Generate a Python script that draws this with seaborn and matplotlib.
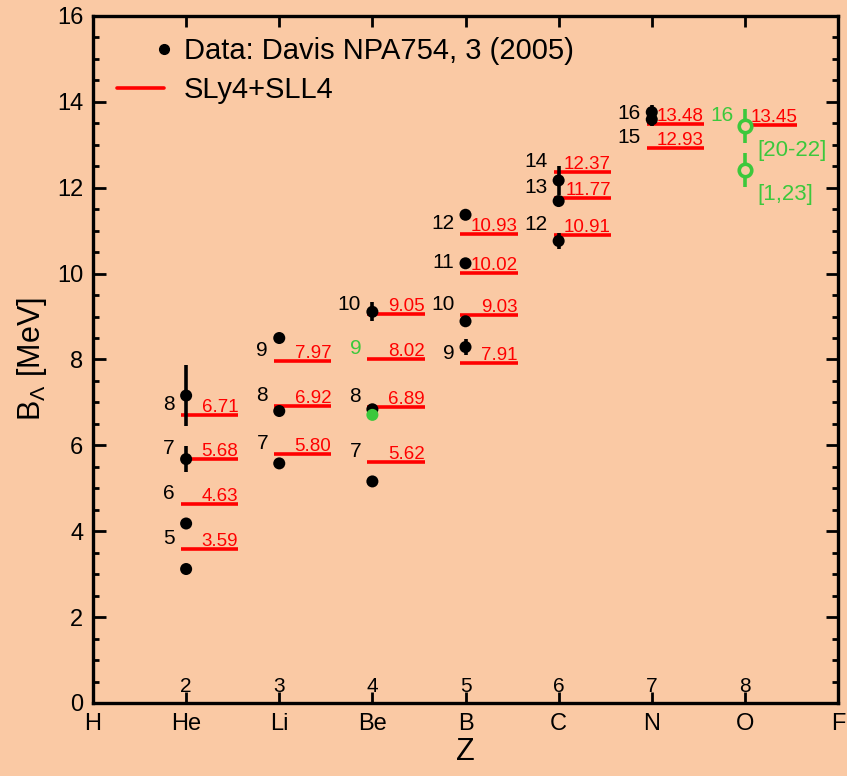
import matplotlib
matplotlib.use("Agg")
import matplotlib.pyplot as plt
import seaborn as sns
import pandas as pd
from matplotlib.lines import Line2D
from matplotlib.legend_handler import HandlerLine2D
from matplotlib.ticker import MultipleLocator

# Element symbols along the Z axis
elements = ["H", "He", "Li", "Be", "B", "C", "N", "O", "F"]
element_Z = [1, 2, 3, 4, 5, 6, 7, 8, 9]

# SLy4+SLL4 Lambda binding energies
th_Z = [2, 2, 2, 2, 3, 3, 3, 4, 4, 4, 4, 5, 5, 5, 5, 6, 6, 6, 7, 7, 8]
th_A = [5, 6, 7, 8, 7, 8, 9, 7, 8, 9, 10, 9, 10, 11, 12, 12, 13, 14, 15, 16, 16]
th_B = [3.59, 4.63, 5.68, 6.71, 5.80, 6.92, 7.97, 5.62, 6.89, 8.02, 9.05,
        7.91, 9.03, 10.02, 10.93, 10.91, 11.77, 12.37, 12.93, 13.48, 13.45]

# Measured values, Davis NPA754, 3 (2005)
exp_Z = [2, 2, 2, 2, 3, 3, 3, 4, 4, 4, 5, 5, 5, 5, 6, 6, 6, 7, 7]
exp_A = [5, 6, 7, 8, 7, 8, 9, 7, 8, 10, 9, 10, 11, 12, 12, 13, 14, 15, 16]
exp_B = [3.12, 4.18, 5.68, 7.16, 5.58, 6.80, 8.50, 5.16, 6.84, 9.11,
         8.29, 8.89, 10.24, 11.37, 10.76, 11.69, 12.17, 13.59, 13.76]
exp_err = [0.02, 0.10, 0.30, 0.70, 0.03, 0.03, 0.12, 0.08, 0.05, 0.22,
           0.18, 0.12, 0.05, 0.06, 0.19, 0.12, 0.33, 0.15, 0.16]

# Other measurements: 9Be (filled) and 16O (open, with references)
be_Z = [4]
be_B = [6.71]
o_Z = [8, 8]
o_B = [13.44, 12.42]
o_err = [0.40, 0.40]
o_refs = ["[20-22]", "[1,23]"]

BG = "#FAC9A4"
RED = "#FF0000"
GREEN = "#3CC83C"

sns.set_style("ticks", rc={"axes.facecolor": BG, "figure.facecolor": BG})
plt.rcParams.update({
    "font.family": ["Liberation Sans", "DejaVu Sans"],
    "mathtext.fontset": "custom",
    "mathtext.rm": "Liberation Sans",
    "mathtext.it": "Liberation Sans:italic",
    "text.color": "black",
    "axes.labelcolor": "black",
    "axes.edgecolor": "black",
    "xtick.color": "black",
    "ytick.color": "black",
    "xtick.labelcolor": "black",
    "ytick.labelcolor": "black",
})

fig = plt.figure(figsize=(8.47, 7.76), dpi=100)
ax = fig.add_axes([0.1098, 0.0941, 0.8796, 0.8853])

th = pd.DataFrame({"Z": th_Z, "A": th_A, "B": th_B})
ex = pd.DataFrame({"Z": exp_Z, "A": exp_A, "B": exp_B, "err": exp_err})

# theory levels
ax.hlines(th["B"], th["Z"] - 0.055, th["Z"] + 0.56, color=RED, lw=2.6, zorder=2)
measured = set(zip(exp_Z, exp_A))
for z, a, b in zip(th_Z, th_A, th_B):
    ax.text(z + 0.56, b + 0.07, f"{b:.2f}", color=RED, fontsize=13.5,
            ha="right", va="baseline", zorder=4)
    col = "black" if (z, a) in measured else GREEN
    ax.text(z - 0.12, b + 0.24, f"{a}", color=col, fontsize=15,
            ha="right", va="center", zorder=4)

# measured points
ax.errorbar(ex["Z"], ex["B"], yerr=ex["err"], fmt="none", ecolor="black",
            elinewidth=2.6, capsize=0, zorder=5)
sns.scatterplot(data=ex, x="Z", y="B", color="black", s=75, edgecolor="none",
                ax=ax, zorder=6, legend=False)
sns.scatterplot(x=be_Z, y=be_B, color=GREEN, s=75, edgecolor="none",
                ax=ax, zorder=7, legend=False)
ax.errorbar(o_Z, o_B, yerr=o_err, fmt="o", color=GREEN, mfc=BG, mec=GREEN,
            ms=9, mew=2.6, elinewidth=2.6, capsize=0, zorder=6)
for b, ref in zip(o_B, o_refs):
    ax.text(8.13, b - 0.58, ref, color=GREEN, fontsize=16, ha="left", va="center")

# charge numbers inside the frame
for z in element_Z[1:-1]:
    ax.text(z, 0.38, f"{z}", fontsize=15, ha="center", va="center")

ax.set_xlim(1, 9)
ax.set_ylim(0, 16)
ax.set_xticks(element_Z)
ax.set_xticklabels(elements)
ax.yaxis.set_major_locator(MultipleLocator(2))
ax.yaxis.set_minor_locator(MultipleLocator(0.5))
ax.tick_params(axis="both", which="major", direction="in", width=2, length=8,
               labelsize=17, pad=7, top=True, right=True, color="black",
               labelcolor="black")
ax.tick_params(axis="y", which="minor", direction="in", width=2, length=4,
               right=True, color="black")
ax.tick_params(axis="y", which="major", right=True, length=9)
for s in ax.spines.values():
    s.set_linewidth(2.4)
    s.set_color("black")

ax.set_xlabel("Z", fontsize=22, labelpad=2, color="black")
ax.set_ylabel(r"B$_\Lambda$ [MeV]", fontsize=22, labelpad=6, color="black")


class MarkerAtEnd(HandlerLine2D):
    """Legend handler that puts a lone marker at the right end of the handle."""

    def create_artists(self, legend, orig_handle, xdescent, ydescent,
                       width, height, fontsize, trans):
        arts = super().create_artists(legend, orig_handle, xdescent, ydescent,
                                      width, height, fontsize, trans)
        for a in arts:
            a.set_markevery(None)
            a.set_xdata([-xdescent + width * 1.0])
            a.set_ydata([(height - ydescent) / 2])
        return arts


h_data = Line2D([], [], ls="none", marker="o", color="black", ms=7)
h_th = Line2D([], [], color=RED, lw=2.6)
leg = ax.legend([h_data, h_th], ["Data: Davis NPA754, 3 (2005)", "SLy4+SLL4"],
                loc="upper left", bbox_to_anchor=(-0.003, 1.008), frameon=False,
                fontsize=21, handlelength=1.62, handletextpad=0.68,
                labelspacing=0.4, numpoints=1,
                handler_map={h_data: MarkerAtEnd()})
for t in leg.get_texts():
    t.set_color("black")

fig.savefig("out.png", dpi=100, facecolor=BG)
